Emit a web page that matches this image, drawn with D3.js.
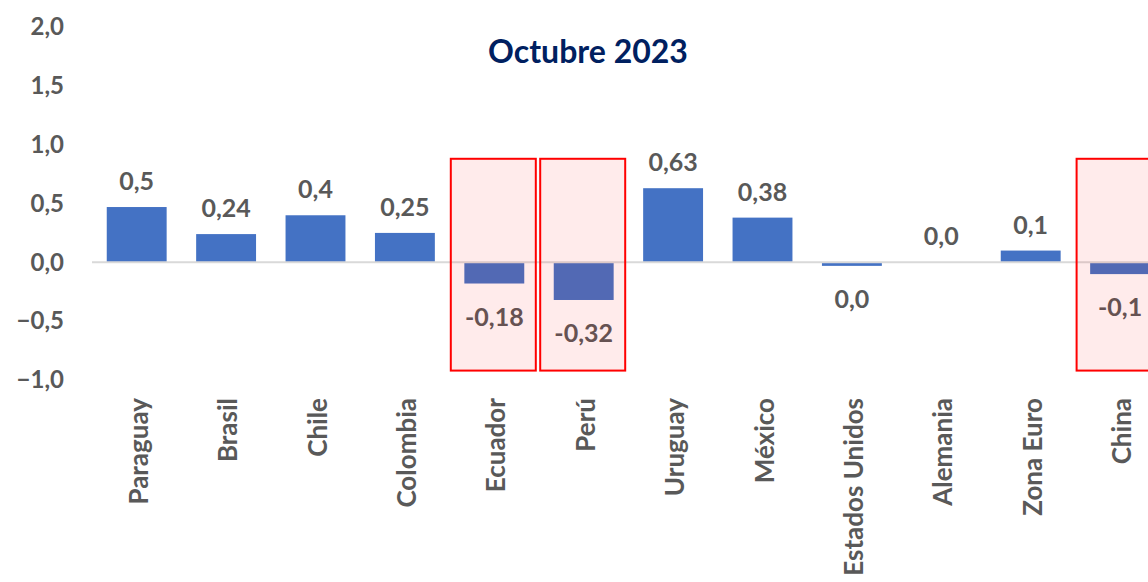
<!DOCTYPE html>
<html>
  <head>
    <meta charset="utf-8">
    <style>
      body { margin: 0; background: #fff; }
      svg { display: block; }
      text { font-family: "Lato", "Open Sans", sans-serif; font-weight: bold; }
    </style>
  </head>
  <body>
    <script src="https://cdn.jsdelivr.net/npm/d3@7"></script>
    <script>
    var width = 1148, height = 582;

    // data
    var countries = ["Paraguay", "Brasil", "Chile", "Colombia", "Ecuador", "Perú",
                     "Uruguay", "México", "Estados Unidos", "Alemania", "Zona Euro", "China"];
    var values = [0.47, 0.24, 0.40, 0.25, -0.18, -0.32, 0.63, 0.38, -0.03, 0.0, 0.10, -0.10];
    var valueLabels = ["0,5", "0,24", "0,4", "0,25", "-0,18", "-0,32", "0,63", "0,38", "0,0", "0,0", "0,1", "-0,1"];
    var highlighted = ["Ecuador", "Perú", "China"];
    var yTicks = [-1.0, -0.5, 0.0, 0.5, 1.0, 1.5, 2.0];
    var title = "Octubre 2023";

    var svg = d3.select("body")
                .append("svg")
                  .attr("width", width)
                  .attr("height", height);

    var xScale = d3.scaleBand()
                   .domain(countries)
                   .range([92, 92 + 12 * 89.4])
                   .paddingInner(0.33)
                   .paddingOuter(0.165);

    var yScale = d3.scaleLinear()
                   .domain([-1, 2])
                   .range([380, 27]);

    // y axis labels only
    var yAxis = svg.append("g")
        .attr("transform", "translate(64,0)")
        .call(d3.axisLeft(yScale).tickValues(yTicks).tickSize(0).tickPadding(0)
              .tickFormat(function (d) { return d3.format(".1f")(d).replace(".", ","); }));
    yAxis.select(".domain").remove();
    yAxis.selectAll("text")
        .attr("fill", "#595959")
        .attr("font-size", 24)
        .attr("font-family", "Lato, sans-serif")
        .attr("font-weight", "bold");

    // bars
    svg.selectAll("rect.bar")
        .data(countries)
        .enter().append("rect")
          .attr("class", "bar")
          .attr("x", function (d) { return xScale(d); })
          .attr("width", xScale.bandwidth())
          .attr("y", function (d, i) { return yScale(Math.max(0, values[i])); })
          .attr("height", function (d, i) { return Math.abs(yScale(values[i]) - yScale(0)); })
          .attr("fill", "#4472C4");

    // zero line
    svg.append("line")
        .attr("x1", 92).attr("x2", width)
        .attr("y1", yScale(0)).attr("y2", yScale(0))
        .attr("stroke", "#d9d9d9")
        .attr("stroke-width", 2);

    // value labels
    svg.selectAll("text.val")
        .data(countries)
        .enter().append("text")
          .attr("class", "val")
          .attr("x", function (d) { return xScale(d) + xScale.bandwidth() / 2; })
          .attr("y", function (d, i) {
            return values[i] < 0 ? yScale(values[i]) + 42 : yScale(values[i]) - 17;
          })
          .attr("text-anchor", "middle")
          .attr("fill", "#595959")
          .attr("font-size", 25)
          .text(function (d, i) { return valueLabels[i]; });

    // category labels
    svg.selectAll("text.cat")
        .data(countries)
        .enter().append("text")
          .attr("class", "cat")
          .attr("transform", function (d) {
            return "translate(" + (xScale(d) + xScale.bandwidth() / 2 + 11) + ",398) rotate(-90)";
          })
          .attr("text-anchor", "end")
          .attr("fill", "#595959")
          .attr("font-size", 26)
          .text(function (d) { return d; });

    // highlight boxes
    var boxW = 85;
    svg.selectAll("rect.hl")
        .data(highlighted)
        .enter().append("rect")
          .attr("class", "hl")
          .attr("x", function (d) { return xScale(d) + xScale.bandwidth() / 2 - boxW / 2 - 1; })
          .attr("width", boxW)
          .attr("y", yScale(0.88))
          .attr("height", yScale(-0.92) - yScale(0.88))
          .attr("fill", "rgba(255,0,0,0.08)")
          .attr("stroke", "#ff0000")
          .attr("stroke-width", 2);

    // title
    svg.append("text")
        .attr("x", 588)
        .attr("y", 63)
        .attr("text-anchor", "middle")
        .attr("fill", "#002060")
        .attr("font-size", 32)
        .text(title);
    </script>
  </body>
</html>
